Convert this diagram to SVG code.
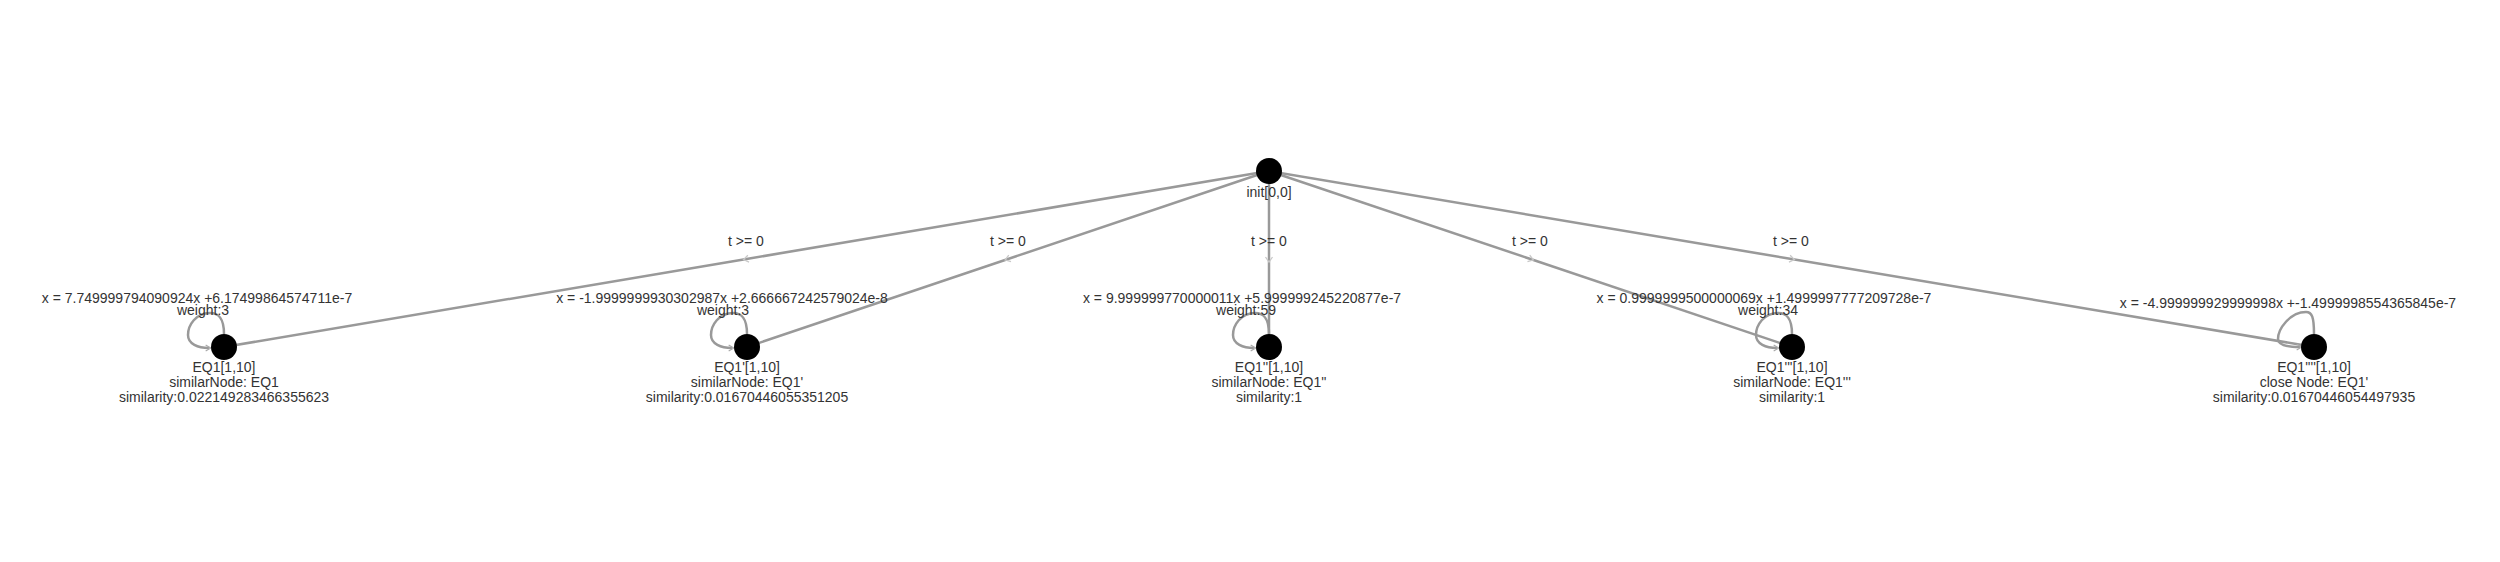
<svg xmlns="http://www.w3.org/2000/svg" width="2500" height="562" viewBox="0 0 2500 562">
<style>
text{font-family:"Liberation Sans",Arial,sans-serif;font-size:14px;fill:#333;text-anchor:middle}
.edge{fill:none;stroke:#999;stroke-width:2.5}
.loop{fill:none;stroke:#999;stroke-width:2.5}
.node{fill:#000}
</style>
<defs>
<marker id="mid" viewBox="-6 -6 12 12" markerWidth="12" markerHeight="12" markerUnits="userSpaceOnUse" orient="auto">
<path d="M-2,-3.5 L3,0 L-2,3.5" fill="none" stroke="#c8c8c8" stroke-width="1.3"/>
</marker>
<marker id="arr" viewBox="-6 -6 12 12" markerWidth="10" markerHeight="10" markerUnits="userSpaceOnUse" orient="auto">
<path d="M-4,-3.5 L2,0 L-4,3.5" fill="none" stroke="#aaa" stroke-width="1.5"/>
</marker>
<path id="lp" d="M0,-13 C0,-30 -6,-34 -14,-34 C-28,-34 -36,-22 -36,-12 C-36,-3 -26,1 -15,1"/>
</defs>
<rect width="2500" height="562" fill="#fff"/>
<g id="connectors">
<polyline class="edge" points="1269,171 746.5,259 224,347" marker-mid="url(#mid)"/>
<polyline class="edge" points="1269,171 1008,259 747,347" marker-mid="url(#mid)"/>
<polyline class="edge" points="1269,171 1269,259 1269,347" marker-mid="url(#mid)"/>
<polyline class="edge" points="1269,171 1530.5,259 1792,347" marker-mid="url(#mid)"/>
<polyline class="edge" points="1269,171 1791.5,259 2314,347" marker-mid="url(#mid)"/>
<path class="loop" transform="translate(224,347)" d="M0,-13 C0,-30 -6,-34 -14,-34 C-28,-34 -36,-22 -36,-12 C-36,-3 -26,1 -15,1" marker-end="url(#arr)"/>
<path class="loop" transform="translate(747,347)" d="M0,-13 C0,-30 -6,-34 -14,-34 C-28,-34 -36,-22 -36,-12 C-36,-3 -26,1 -15,1" marker-end="url(#arr)"/>
<path class="loop" transform="translate(1269,347)" d="M0,-13 C0,-30 -6,-34 -14,-34 C-28,-34 -36,-22 -36,-12 C-36,-3 -26,1 -15,1" marker-end="url(#arr)"/>
<path class="loop" transform="translate(1792,347)" d="M0,-13 C0,-30 -6,-34 -14,-34 C-28,-34 -36,-22 -36,-12 C-36,-3 -26,1 -15,1" marker-end="url(#arr)"/>
<path class="loop" transform="translate(2314,347)" d="M0,-13 C0,-30 -2,-35 -8,-35 C-24,-35 -36,-18 -36,-8 C-36,-2 -26,0 -14,0" marker-end="url(#arr)"/>
<text x="746" y="246">t &gt;= 0</text>
<text x="1008" y="246">t &gt;= 0</text>
<text x="1269" y="246">t &gt;= 0</text>
<text x="1530" y="246">t &gt;= 0</text>
<text x="1791" y="246">t &gt;= 0</text>
<text x="197" y="303">x = 7.749999794090924x +6.17499864574711e-7</text>
<text x="203" y="315">weight:3</text>
<text x="722" y="303">x = -1.9999999930302987x +2.666667242579024e-8</text>
<text x="723" y="315">weight:3</text>
<text x="1242" y="303">x = 9.999999770000011x +5.999999245220877e-7</text>
<text x="1246" y="315">weight:59</text>
<text x="1764" y="303">x = 0.9999999500000069x +1.4999997777209728e-7</text>
<text x="1768" y="315">weight:34</text>
<text x="2288" y="308">x = -4.999999929999998x +-1.4999998554365845e-7</text>
</g>
<g id="init">
<circle class="node" cx="1269" cy="171" r="13"/>
<text x="1269" y="197">init[0,0]</text>
</g>
<g id="EQ1">
<circle class="node" cx="224" cy="347" r="13"/>
<text x="224" y="372">EQ1[1,10]</text>
<text x="224" y="387">similarNode: EQ1</text>
<text x="224" y="402">similarity:0.022149283466355623</text>
</g>
<g id="EQ1p">
<circle class="node" cx="747" cy="347" r="13"/>
<text x="747" y="372">EQ1'[1,10]</text>
<text x="747" y="387">similarNode: EQ1'</text>
<text x="747" y="402">similarity:0.01670446055351205</text>
</g>
<g id="EQ1pp">
<circle class="node" cx="1269" cy="347" r="13"/>
<text x="1269" y="372">EQ1''[1,10]</text>
<text x="1269" y="387">similarNode: EQ1''</text>
<text x="1269" y="402">similarity:1</text>
</g>
<g id="EQ1ppp">
<circle class="node" cx="1792" cy="347" r="13"/>
<text x="1792" y="372">EQ1'''[1,10]</text>
<text x="1792" y="387">similarNode: EQ1'''</text>
<text x="1792" y="402">similarity:1</text>
</g>
<g id="EQ1pppp">
<circle class="node" cx="2314" cy="347" r="13"/>
<text x="2314" y="372">EQ1''''[1,10]</text>
<text x="2314" y="387">close Node: EQ1'</text>
<text x="2314" y="402">similarity:0.01670446054497935</text>
</g>
</svg>
